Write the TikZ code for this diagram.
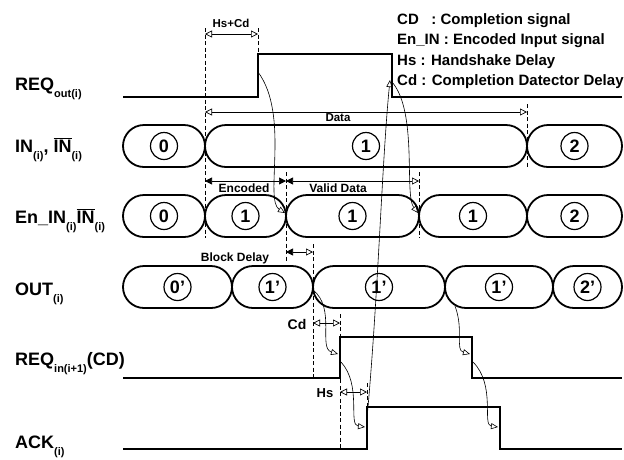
\documentclass[tikz,border=0pt]{standalone}
\usepackage{fontspec}
\setmainfont{Liberation Sans}
\usetikzlibrary{positioning, arrows.meta, shapes.misc}

% subscript and barred input name for the signal labels
\newcommand{\sigsub}[1]{\raisebox{-7pt}{\fontsize{11}{11}\selectfont #1}}
\newcommand{\barIN}{$\overline{\mbox{IN}}$}

\begin{document}
\begin{tikzpicture}[
    x=1pt, y=-1pt,
    seg/.style={draw, rounded rectangle, line width=1.8pt, minimum height=42pt, inner sep=0pt, outer sep=0pt},
    num/.style={draw, circle, line width=1.2pt, minimum size=27pt, inner sep=0pt, font=\fontsize{18}{18}\selectfont\bfseries},
    wave/.style={line width=2.6pt, line join=miter},
    guide/.style={line width=0.8pt, dash pattern=on 4pt off 2.5pt},
    cause/.style={line width=0.6pt, -{Triangle[open, length=7pt, width=6pt]}},
    dim oo/.style={line width=0.7pt, {Triangle[open, length=7pt, width=7pt]}-{Triangle[open, length=7pt, width=7pt]}},
    dim ff/.style={line width=0.7pt, {Triangle[length=7pt, width=7pt]}-{Triangle[length=7pt, width=7pt]}},
    dim fo/.style={line width=0.7pt, {Triangle[length=7pt, width=7pt]}-{Triangle[open, length=7pt, width=7pt]}},
    sig/.style={anchor=base west, inner sep=0pt, font=\fontsize{18}{18}\selectfont\bfseries},
    tag/.style={inner sep=1pt, font=\fontsize{12}{12}\selectfont\bfseries},
    key/.style={anchor=north west, inner sep=0pt, align=left, font=\fontsize{15}{20.5}\selectfont\bfseries}
]
  \useasboundingbox (0,0) rectangle (624,459);

  % signal names
  \node[sig] (reqout) at (15,90) {REQ\sigsub{out(i)}};
  \node[sig] (inlab) at (15,152) {IN\sigsub{(i)}, \barIN\sigsub{(i)}};
  \node[sig] (enlab) at (15,223) {En\_IN\sigsub{(i)}\barIN\sigsub{(i)}};
  \node[sig] (outlab) at (15,295) {OUT\sigsub{(i)}};
  \node[sig] (reqin) at (15,365) {REQ\sigsub{in(i+1)}(CD)};
  \node[sig] (acklab) at (15,448) {ACK\sigsub{(i)}};

  % legend
  \node[key] (legend) at (397,13) {CD\ \ \ : Completion signal\\En\_IN : Encoded Input signal\\Hs : Handshake Delay\\Cd : Completion Datector Delay};

  % data bubbles
  \foreach \a/\b/\n [count=\k] in {123/205/0, 205/527/1, 527/622/2} {
    \node[seg, minimum width={(\b-\a)*1pt}] (in\k) at ({(\a+\b)/2},146) {};
    \node[num] (inc\k) at (in\k) {\n};
  }
  \foreach \a/\b/\n [count=\k] in {123/205/0, 205/286/1, 286/419/1, 419/527/1, 527/622/2} {
    \node[seg, minimum width={(\b-\a)*1pt}] (en\k) at ({(\a+\b)/2},216) {};
    \node[num] (enc\k) at (en\k) {\n};
  }
  \foreach \a/\b/\n [count=\k] in {123/232/0', 232/313/1', 313/445/1', 445/553/1', 553/622/2'} {
    \node[seg, minimum width={(\b-\a)*1pt}] (out\k) at ({(\a+\b)/2},287) {};
    \node[num] (outc\k) at (out\k) {\n};
  }

  % waveforms
  \draw[wave] (123,97) -- (258,97) -- (258,54) -- (392,54) -- (392,97) -- (622,97);
  \draw[wave] (123,378) -- (340,378) -- (340,337) -- (472,337) -- (472,378) -- (622,378);
  \draw[wave] (123,449) -- (367,449) -- (367,407) -- (500,407) -- (500,449) -- (622,449);

  % guide lines
  \draw[guide] (205,28) -- (205,238);
  \draw[guide] (258,28) -- (258,54);
  \draw[guide] (527,104) -- (527,167);
  \draw[guide] (286,172) -- (286,262);
  \draw[guide] (419,172) -- (419,238);
  \draw[guide] (313,244) -- (313,378);
  \draw[guide] (340,314) -- (340,449);
  \draw[guide] (367,383) -- (367,407);

  % delay marks
  \coordinate (hcL) at (205,34);  \coordinate (hcR) at (258,34);
  \coordinate (daL) at (205,112); \coordinate (daR) at (527,112);
  \coordinate (ecL) at (205,181); \coordinate (ecR) at (286,181);
  \coordinate (vdR) at (419,181);
  \coordinate (bdL) at (286,252); \coordinate (bdR) at (313,252);
  \coordinate (cdL) at (313,323); \coordinate (cdR) at (340,323);
  \coordinate (hsL) at (340,392); \coordinate (hsR) at (367,392);

  \draw[dim oo] (hcL) -- (hcR);
  \node[tag, font=\fontsize{11.5}{11.5}\selectfont\bfseries] (hclab) at (231,23) {Hs+Cd};
  \draw[dim oo] (daL) -- (daR);
  \node[tag, font=\fontsize{11.5}{11.5}\selectfont\bfseries] (dalab) at (338,118) {Data};
  \draw[dim ff] (ecL) -- (ecR);
  \node[tag] (eclab) at (244,188) {Encoded};
  \draw[dim fo] (ecR) -- (vdR);
  \node[tag] (vdlab) at (338,188) {Valid Data};
  \draw[dim fo] (bdL) -- (bdR);
  \node[tag] (bdlab) at (235,258) {Block Delay};
  \draw[dim oo] (cdL) -- (cdR);
  \node[tag, font=\fontsize{14}{14}\selectfont\bfseries] (cdlab) at (297,324) {Cd};
  \draw[dim oo] (hsL) -- (hsR);
  \node[tag, font=\fontsize{13}{13}\selectfont\bfseries] (hslab) at (325,393) {Hs};

  % cause and effect
  \coordinate (ro-up) at (258,72);
  \coordinate (ro-dn) at (392,82);
  \coordinate (ro-dnin) at (390,80);
  \coordinate (ri-up) at (341,362);
  \coordinate (ri-upin) at (338,354);
  \coordinate (ri-dn) at (473,362);
  \coordinate (ri-dnin) at (470,354);
  \coordinate (ak-up) at (367,418);
  \coordinate (ak-upin) at (365,427);
  \coordinate (ak-dnin) at (498,427);
  \coordinate (en-x1) at (285,213);
  \coordinate (en-x2) at (418,213);
  \coordinate (out-x1) at (313,290);
  \coordinate (out-x2) at (455,306);

  \draw[cause] (ro-up) .. controls (290,115) and (264,200) .. (en-x1);
  \draw[cause] (ro-dn) .. controls (418,112) and (404,195) .. (en-x2);
  \draw[cause] (ak-up) .. controls (378,300) and (382,160) .. (ro-dnin);
  \draw[cause] (out-x1) .. controls (336,308) and (318,348) .. (ri-upin);
  \draw[cause] (ri-up) .. controls (362,385) and (348,425) .. (ak-upin);
  \draw[cause] (out-x2) .. controls (464,330) and (455,350) .. (ri-dnin);
  \draw[cause] (ri-dn) .. controls (496,385) and (482,425) .. (ak-dnin);
\end{tikzpicture}
\end{document}
